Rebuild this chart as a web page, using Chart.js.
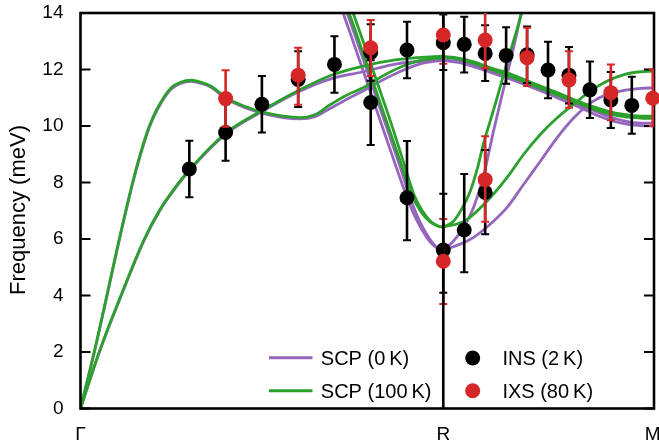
<!DOCTYPE html>
<html>
<head>
<meta charset="utf-8">
<script src="https://cdn.jsdelivr.net/npm/chart.js@4.4.1/dist/chart.umd.min.js"></script>
<style>
html,body{margin:0;padding:0;background:#fff;}
#wrap{width:659px;height:445px;position:relative;}
</style>
</head>
<body>
<div id="wrap"><canvas id="c" width="659" height="445"></canvas></div>
<script>
const FONT = "'Liberation Sans', Arial, Helvetica, sans-serif";

// ---- axes ----
const xTickValues = [0, 0.866, 1.366];
const xTickLabels = ['Γ', 'R', 'M'];
const yTickValues = [0, 2, 4, 6, 8, 10, 12, 14];
const yTitle = 'Frequency (meV)';
const legendLabels = ['SCP (0\u2009K)', 'SCP (100\u2009K)', 'INS (2\u2009K)', 'IXS (80\u2009K)'];

// ---- SCP 100 K (green) branches ----
const gA_q = [0, 0.0328, 0.0629, 0.0926, 0.1244, 0.1435, 0.1644, 0.1842, 0.2160, 0.2392, 0.2639, 0.2871, 0.3117, 0.3476, 0.3916, 0.4395, 0.4833, 0.5239, 0.5598, 0.5957, 0.6364, 0.6746, 0.7153, 0.7632, 0.8110, 0.8660];
const gA_E = [0, 2.0, 4.0, 6.0, 8.0, 9.05, 10.0, 10.65, 11.35, 11.55, 11.62, 11.55, 11.41, 11.0, 10.7, 10.47, 10.35, 10.3, 10.4, 10.75, 11.1, 11.35, 11.72, 12.08, 12.32, 12.42];
const gB_q = [0, 0.0447, 0.0965, 0.1524, 0.1900, 0.2249, 0.2600, 0.3476, 0.4313, 0.5191, 0.5957, 0.6746, 0.7553, 0.8349, 0.8660];
const gB_E = [0, 2.0, 4.0, 6.0, 7.05, 7.8, 8.45, 9.76, 10.53, 11.25, 11.78, 12.12, 12.35, 12.45, 12.47];
const gS1_q = [0.6292, 0.6579, 0.6938, 0.7297, 0.7656, 0.7895, 0.8110, 0.8349, 0.8517, 0.8660];
const gS2_q = [0.6387, 0.6675, 0.7033, 0.7392, 0.7727, 0.7966, 0.8158, 0.8373, 0.8541, 0.8660];
const gS1_E = [14.5, 13.3, 11.75, 10.2, 8.65, 7.6, 7.0, 6.6, 6.46, 6.42];
const gS2_E = [14.5, 13.3, 11.75, 10.2, 8.65, 7.55, 7.0, 6.6, 6.46, 6.42];
const gT_q = [0.8660, 0.8899, 0.9115, 0.9306, 0.9474, 0.9624, 0.9785, 0.9945, 1.0096, 1.0263, 1.0454, 1.0598];
const gT_E = [6.42, 6.62, 7.1, 7.7, 8.5, 9.4, 10.2, 11.0, 11.8, 12.65, 13.6, 14.4];
const gU_q = [0.8660, 0.9187, 0.9785, 1.0184, 1.0581, 1.0981, 1.1380, 1.1777, 1.2177, 1.2576, 1.2974, 1.3373, 1.3660];
const gU_E = [6.42, 6.65, 7.47, 8.18, 9.0, 9.71, 10.29, 10.77, 11.24, 11.59, 11.82, 11.92, 11.94];
const P_q = [0.8660, 0.9019, 0.9385, 0.9785, 1.0184, 1.0581, 1.0981, 1.1380, 1.1777, 1.2177, 1.2576, 1.2974, 1.3373, 1.3660];
const gP1_E = [12.46, 12.4, 12.27, 12.06, 11.88, 11.65, 11.41, 11.18, 10.94, 10.71, 10.53, 10.41, 10.35, 10.35];
const gP2_E = [12.44, 12.37, 12.22, 12.0, 11.8, 11.57, 11.33, 11.1, 10.86, 10.63, 10.45, 10.33, 10.28, 10.27];

// ---- SCP 0 K (purple) branches ----
const pA_E = [0, 1.98, 3.97, 5.97, 7.96, 9.0, 9.96, 10.6, 11.3, 11.51, 11.58, 11.51, 11.37, 10.96, 10.66, 10.43, 10.3, 10.25, 10.33, 10.62, 10.95, 11.24, 11.58, 11.93, 12.2, 12.33];
const pB_E = [0, 1.98, 3.97, 5.97, 7.02, 7.77, 8.42, 9.72, 10.49, 11.2, 11.66, 11.92, 12.2, 12.32, 12.35];
const pS1_q = [0.6148, 0.6435, 0.6794, 0.7153, 0.7512, 0.7799, 0.8014, 0.8253, 0.8469, 0.8660];
const pS2_q = [0.6244, 0.6531, 0.6890, 0.7249, 0.7608, 0.7871, 0.8074, 0.8301, 0.8493, 0.8660];
const pS_E = [14.5, 13.3, 11.75, 10.2, 8.65, 7.45, 6.7, 6.08, 5.72, 5.6];
const pT_q = [0.8660, 0.8899, 0.9139, 0.9378, 0.9617, 0.9856, 1.0096, 1.0311, 1.0526, 1.0598];
const pT_E = [5.6, 5.92, 6.4, 7.1, 8.2, 9.8, 11.3, 12.6, 14.0, 14.4];
const pU_q = [0.8660, 0.9067, 0.9385, 0.9785, 1.0184, 1.0581, 1.0981, 1.1380, 1.1777, 1.2177, 1.2576, 1.2974, 1.3373, 1.3660];
const pU_E = [5.6, 5.82, 6.06, 6.53, 7.12, 7.94, 8.76, 9.59, 10.29, 10.82, 11.12, 11.26, 11.33, 11.35];
const pP1_E = [12.34, 12.28, 12.15, 11.97, 11.77, 11.56, 11.33, 11.1, 10.85, 10.59, 10.35, 10.18, 10.1, 10.1];
const pP2_E = [12.32, 12.25, 12.1, 11.9, 11.7, 11.48, 11.25, 11.0, 10.75, 10.48, 10.24, 10.08, 10.01, 10.0];

// ---- INS (2 K) data ----
const insQ  = [0.2598, 0.3464, 0.4330, 0.5196, 0.6062, 0.6928, 0.6928, 0.7794, 0.7794, 0.8660, 0.8660, 0.9160, 0.9160, 0.9660, 0.9660, 1.0160, 1.0660, 1.1160, 1.1660, 1.2160, 1.2660, 1.3160];
const insE  = [8.48, 9.77, 10.77, 11.65, 12.18, 12.60, 10.83, 12.69, 7.46, 12.95, 5.61, 12.89, 6.32, 12.57, 7.65, 12.50, 12.52, 11.98, 11.80, 11.28, 10.92, 10.73];
const insLo = [7.48, 8.77, 9.77, 10.67, 11.18, 11.60, 9.33, 11.69, 5.96, 11.98, 4.10, 11.89, 4.82, 11.59, 6.17, 11.50, 11.52, 10.98, 10.80, 10.28, 9.93, 9.73];
const insHi = [9.48, 10.77, 11.77, 12.65, 13.18, 13.60, 12.33, 13.69, 9.47, 13.95, 7.60, 13.87, 8.30, 13.57, 9.15, 13.50, 13.52, 12.98, 12.80, 12.28, 11.91, 11.74];

// ---- IXS (80 K) data ----
const ixsQ  = [0.3464, 0.5196, 0.6928, 0.8660, 0.8660, 0.9660, 0.9660, 1.0660, 1.1660, 1.2660, 1.3660];
const ixsE  = [10.97, 11.80, 12.77, 13.22, 5.21, 13.04, 8.10, 12.42, 11.63, 11.18, 10.98];
const ixsLo = [9.97, 10.75, 11.77, 12.20, 3.70, 12.04, 6.61, 11.42, 10.65, 10.20, 10.00];
const ixsHi = [11.97, 12.77, 13.75, 14.22, 6.71, 14.04, 9.64, 13.48, 12.65, 12.18, 12.00];

const PURPLE = '#9467bd', GREEN = '#2ca02c', RED = '#d62728', BLACK = '#000000';

function pts(q, E) { return q.map((v, i) => ({ x: v, y: E[i] })); }
function curve(q, E, color, order) {
  return { data: pts(q, E), showLine: true, borderColor: color, backgroundColor: color,
    borderWidth: 2.8, pointRadius: 0, pointHoverRadius: 0, tension: 0.4,
    cubicInterpolationMode: 'monotone', fill: false, order: order };
}

const datasets = [
  curve(gA_q, pA_E, PURPLE, 3), curve(gB_q, pB_E, PURPLE, 3),
  curve(pS1_q, pS_E, PURPLE, 3), curve(pS2_q, pS_E, PURPLE, 3),
  curve(pT_q, pT_E, PURPLE, 3), curve(pU_q, pU_E, PURPLE, 3),
  curve(P_q, pP1_E, PURPLE, 3), curve(P_q, pP2_E, PURPLE, 3),
  curve(gA_q, gA_E, GREEN, 2), curve(gB_q, gB_E, GREEN, 2),
  curve(gS1_q, gS1_E, GREEN, 2), curve(gS2_q, gS2_E, GREEN, 2),
  curve(gT_q, gT_E, GREEN, 2), curve(gU_q, gU_E, GREEN, 2),
  curve(P_q, gP1_E, GREEN, 2), curve(P_q, gP2_E, GREEN, 2),
  { data: pts(insQ, insE), showLine: false, pointRadius: 7.5, pointHoverRadius: 7.5, pointBorderWidth: 0,
    backgroundColor: BLACK, borderColor: BLACK, order: 1, clip: false,
    errLo: insLo, errHi: insHi, errColor: BLACK, frameFirst: true },
  { data: pts(ixsQ, ixsE), showLine: false, pointRadius: 7.5, pointHoverRadius: 7.5, pointBorderWidth: 0,
    backgroundColor: RED, borderColor: RED, order: 0, clip: false,
    errLo: ixsLo, errHi: ixsHi, errColor: RED, rLineAfter: true }
];

function drawFrame(chart) {
  const { ctx, chartArea: a, scales: { y } } = chart;
  ctx.save();
  ctx.strokeStyle = '#000';
  ctx.lineWidth = 2;
  yTickValues.forEach(v => {
    const py = y.getPixelForValue(v);
    ctx.beginPath();
    ctx.moveTo(a.left, py); ctx.lineTo(a.left + 10, py);
    ctx.moveTo(a.right, py); ctx.lineTo(a.right - 10, py);
    ctx.stroke();
  });
  ctx.lineWidth = 2.6;
  ctx.strokeRect(a.left, a.top, a.right - a.left, a.bottom - a.top);
  ctx.restore();
}
function drawRLine(chart) {
  const { ctx, chartArea: a, scales: { x } } = chart;
  const px = x.getPixelForValue(xTickValues[1]);
  ctx.save();
  ctx.strokeStyle = '#000';
  ctx.lineWidth = 2.6;
  ctx.beginPath(); ctx.moveTo(px, a.top); ctx.lineTo(px, a.bottom); ctx.stroke();
  ctx.restore();
}

const decor = {
  id: 'decor',
  beforeDatasetDraw(chart, args) {
    const ds = chart.data.datasets[args.index];
    if (!ds.errLo) return;
    const { ctx, chartArea: a, scales: { x, y } } = chart;
    if (ds.frameFirst) drawFrame(chart);
    ctx.save();
    ctx.beginPath(); ctx.rect(a.left, a.top, a.right - a.left, a.bottom - a.top); ctx.clip();
    ctx.strokeStyle = ds.errColor;
    ds.data.forEach((p, i) => {
      const px = x.getPixelForValue(p.x);
      const ylo = y.getPixelForValue(ds.errLo[i]);
      const yhi = y.getPixelForValue(ds.errHi[i]);
      ctx.lineWidth = 2.6;
      ctx.beginPath(); ctx.moveTo(px, ylo); ctx.lineTo(px, yhi); ctx.stroke();
      ctx.lineWidth = 2;
      ctx.beginPath();
      ctx.moveTo(px - 4, ylo); ctx.lineTo(px + 4, ylo);
      ctx.moveTo(px - 4, yhi); ctx.lineTo(px + 4, yhi);
      ctx.stroke();
    });
    ctx.restore();
    if (ds.rLineAfter) drawRLine(chart);
  },
  afterDraw(chart) {
    const ctx = chart.ctx;
    const xs = chart.scales.x;
    // x tick labels (high-symmetry points)
    ctx.save();
    ctx.fillStyle = '#000';
    ctx.font = '19px ' + FONT;
    ctx.textAlign = 'center';
    ctx.textBaseline = 'alphabetic';
    xTickValues.forEach((v, i) => {
      ctx.fillText(xTickLabels[i], xs.getPixelForValue(v), 440);
    });
    ctx.restore();

    // y-axis title
    ctx.save();
    ctx.fillStyle = '#000';
    ctx.font = '22px ' + FONT;
    ctx.textAlign = 'center';
    ctx.textBaseline = 'alphabetic';
    ctx.translate(24.5, 210);
    ctx.rotate(-Math.PI / 2);
    ctx.fillText(yTitle, 0, 0);
    ctx.restore();

    // legend
    ctx.save();
    ctx.lineWidth = 3;
    ctx.strokeStyle = PURPLE;
    ctx.beginPath(); ctx.moveTo(269, 357.7); ctx.lineTo(312.5, 357.7); ctx.stroke();
    ctx.strokeStyle = GREEN;
    ctx.beginPath(); ctx.moveTo(269, 390.7); ctx.lineTo(312.5, 390.7); ctx.stroke();
    ctx.fillStyle = BLACK;
    ctx.beginPath(); ctx.arc(472.7, 358, 7.5, 0, Math.PI * 2); ctx.fill();
    ctx.fillStyle = RED;
    ctx.beginPath(); ctx.arc(472.7, 390.7, 7.5, 0, Math.PI * 2); ctx.fill();
    ctx.fillStyle = '#000';
    ctx.font = '20px ' + FONT;
    ctx.textAlign = 'left';
    ctx.textBaseline = 'alphabetic';
    ctx.fillText(legendLabels[0], 320.8, 365);
    ctx.fillText(legendLabels[1], 320.8, 398);
    ctx.fillText(legendLabels[2], 502.4, 365);
    ctx.fillText(legendLabels[3], 502.4, 398);
    ctx.restore();
  }
};

new Chart(document.getElementById('c'), {
  type: 'scatter',
  data: { datasets: datasets },
  options: {
    responsive: false,
    devicePixelRatio: 1,
    animation: false,
    events: [],
    layout: { padding: { left: 0, right: 5, top: 13, bottom: 0 }, autoPadding: false },
    plugins: { legend: { display: false }, tooltip: { enabled: false }, title: { display: false } },
    scales: {
      x: {
        type: 'linear', min: 0, max: 1.369,
        grid: { display: false, drawTicks: false },
        border: { display: false },
        afterBuildTicks: s => { s.ticks = xTickValues.map(v => ({ value: v })); },
        afterFit: s => { s.height = 36.5; s.paddingLeft = 0; s.paddingRight = 0; s.paddingTop = 0; s.paddingBottom = 0; },
        ticks: { display: false }
      },
      y: {
        type: 'linear', min: 0, max: 14,
        grid: { display: false, drawTicks: false },
        border: { display: false },
        afterBuildTicks: s => { s.ticks = yTickValues.map(v => ({ value: v })); },
        afterFit: s => { s.width = 80.5; s.paddingTop = 0; s.paddingBottom = 0; s.paddingLeft = 0; s.paddingRight = 0; },
        ticks: {
          padding: 17, color: '#000', font: { family: FONT, size: 19 },
          callback: v => String(v)
        }
      }
    }
  },
  plugins: [decor]
});
</script>
</body>
</html>
